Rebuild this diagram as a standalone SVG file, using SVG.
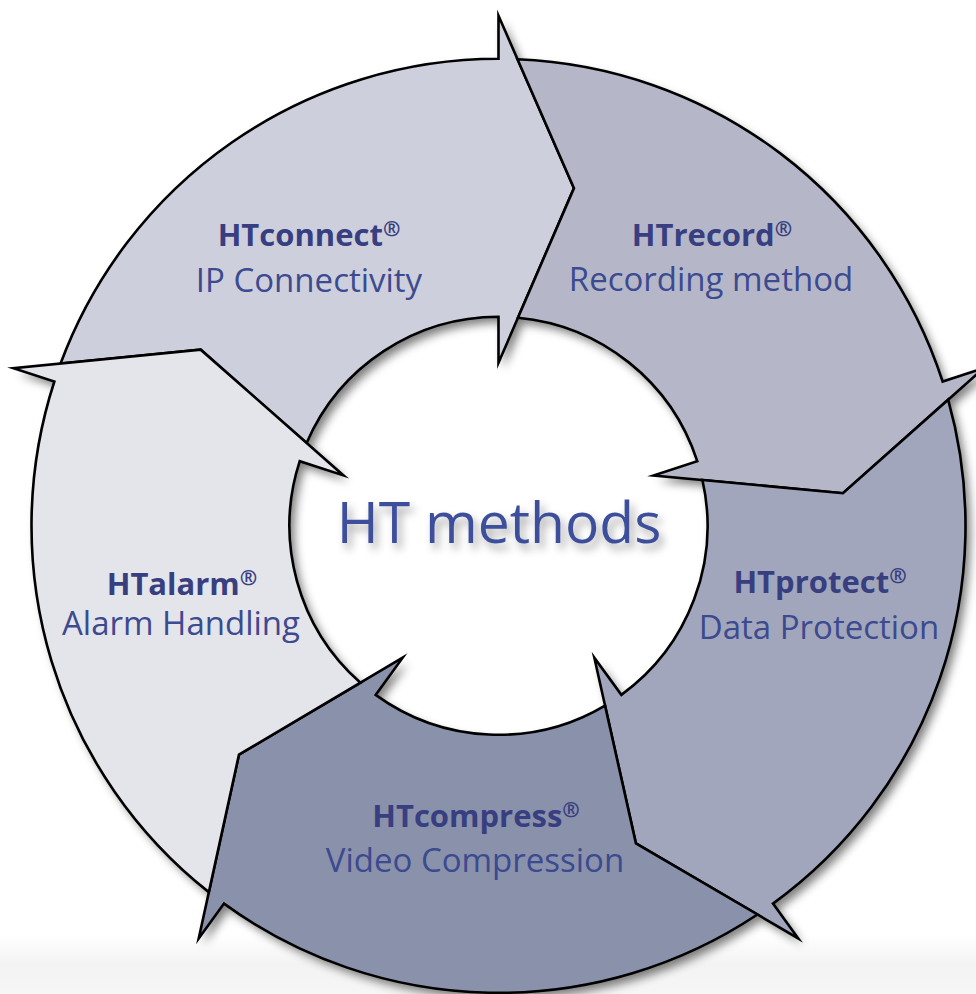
<svg xmlns="http://www.w3.org/2000/svg" xmlns:xlink="http://www.w3.org/1999/xlink" width="976" height="994" viewBox="0 0 976 994">
<style>
.seg{stroke:#000;stroke-width:2.6;stroke-linejoin:miter;stroke-miterlimit:20}
.c0{fill:#cecfdd}.c1{fill:#b5b7c9}.c2{fill:#a1a6bc}.c3{fill:#8a91aa}.c4{fill:#e4e4eb}
.t{font-family:"Open Sans","Noto Sans","Liberation Sans",sans-serif;text-anchor:middle;fill:#3c4a8f}
.b{font-weight:700;font-size:31px;fill:#383f80}
.r{font-size:33px;font-weight:500}
.sup{font-size:21px}
.big{font-size:57px;fill:#3d4f9b;font-weight:500}
</style>
<defs>
<filter id="sh" x="-20%" y="-20%" width="140%" height="140%"><feGaussianBlur stdDeviation="5"/></filter>
<filter id="tsh" x="-20%" y="-50%" width="140%" height="200%">
<feGaussianBlur in="SourceAlpha" stdDeviation="4"/>
<feOffset dx="4" dy="6" result="o"/>
<feFlood flood-color="#000" flood-opacity="0.35"/>
<feComposite in2="o" operator="in"/>
<feMerge><feMergeNode/><feMergeNode in="SourceGraphic"/></feMerge>
</filter>
<linearGradient id="floor" x1="0" y1="0" x2="0" y2="1"><stop offset="0" stop-color="#fff"/><stop offset="0.5" stop-color="#f3f3f3"/><stop offset="1" stop-color="#f6f6f6"/></linearGradient>
<path id="p0" d="M60.60,363.54 A467,467 0 0 1 498.5,58.8 L498.5,15.8 L573.98,188.13 L498.5,362.8 L498.5,316.8 A209,209 0 0 0 306.61,442.97 L200.68,349.67 Z"/>
<path id="p1" d="M517.50,59.19 A467,467 0 0 1 942.64,381.49 L983.54,368.20 L842.96,493.24 L653.52,475.43 L697.27,461.22 A209,209 0 0 0 517.98,317.71 L573.98,188.13 Z"/>
<path id="p2" d="M948.15,399.68 A467,467 0 0 1 773.00,903.61 L798.27,938.40 L635.91,843.34 L594.31,657.67 L621.35,694.88 A209,209 0 0 0 702.42,480.02 L842.96,493.24 Z"/>
<path id="p3" d="M757.39,914.47 A467,467 0 0 1 224.00,903.61 L198.73,938.40 L238.96,754.61 L402.69,657.67 L375.65,694.88 A209,209 0 0 0 605.05,705.60 L635.91,843.34 Z"/>
<path id="p4" d="M208.86,892.13 A467,467 0 0 1 54.36,381.49 L13.46,368.20 L200.68,349.67 L343.48,475.43 L299.73,461.22 A209,209 0 0 0 360.43,682.70 L238.96,754.61 Z"/>
</defs>
<rect x="0" y="0" width="976" height="994" fill="#fff"/>
<rect x="0" y="935" width="976" height="59" fill="url(#floor)"/>
<g id="shadow" transform="translate(5,6)" filter="url(#sh)" opacity="0.5" fill="#000">
<use xlink:href="#p0"/><use xlink:href="#p1"/><use xlink:href="#p2"/><use xlink:href="#p3"/><use xlink:href="#p4"/>
</g>
<g id="htconnect">
<use xlink:href="#p0" class="seg c0"/>
<text class="t b" x="309" y="246">HTconnect<tspan class="sup" dy="-10">®</tspan></text>
<text class="t r" x="309" y="292">IP Connectivity</text>
</g>
<g id="htrecord">
<use xlink:href="#p1" class="seg c1"/>
<text class="t b" x="712" y="246">HTrecord<tspan class="sup" dy="-10">®</tspan></text>
<text class="t r" x="711" y="291">Recording method</text>
</g>
<g id="htprotect">
<use xlink:href="#p2" class="seg c2"/>
<text class="t b" x="820" y="593">HTprotect<tspan class="sup" dy="-10">®</tspan></text>
<text class="t r" x="819" y="639">Data Protection</text>
</g>
<g id="htcompress">
<use xlink:href="#p3" class="seg c3"/>
<text class="t b" x="476" y="827">HTcompress<tspan class="sup" dy="-10">®</tspan></text>
<text class="t r" x="475" y="872">Video Compression</text>
</g>
<g id="htalarm">
<use xlink:href="#p4" class="seg c4"/>
<text class="t b" x="182" y="595">HTalarm<tspan class="sup" dy="-10">®</tspan></text>
<text class="t r" x="181" y="635">Alarm Handling</text>
</g>
<g id="center">
<text class="t big" x="499" y="543" filter="url(#tsh)">HT methods</text>
</g>
<g id="connectors"/>
</svg>
